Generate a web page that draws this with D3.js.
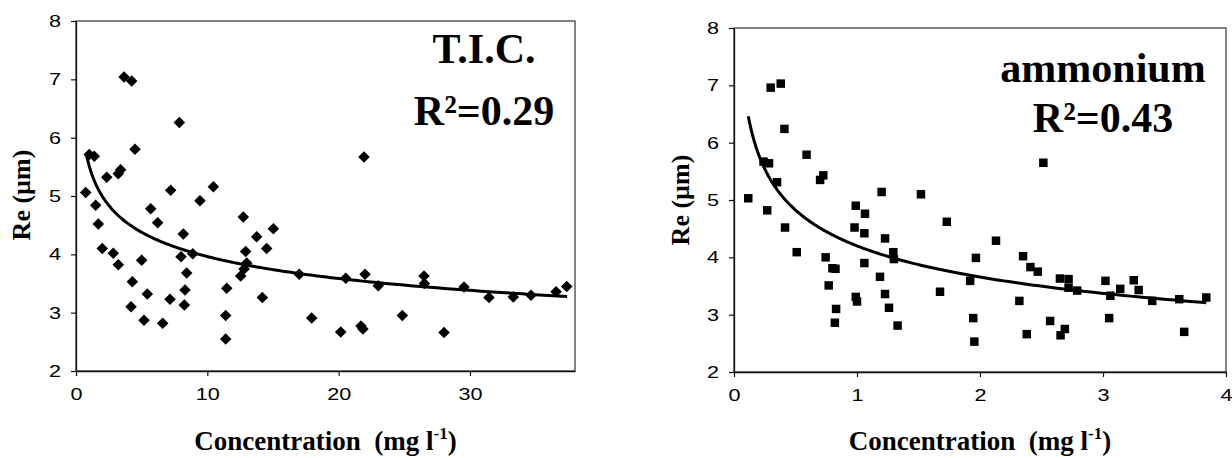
<!DOCTYPE html>
<html>
<head>
<meta charset="utf-8">
<script src="https://cdn.jsdelivr.net/npm/d3@7"></script>
<style>
  html, body { margin: 0; padding: 0; background: #fff; }
  svg { display: block; }
  text { white-space: pre; }
</style>
</head>
<body>
<svg id="chart" width="1232" height="458"></svg>
<script>
// ---- Data ----
const ticX = [3.66, 4.24, 7.87, 4.49, 1.01, 1.39, 2.34, 3.22, 3.40, 0.74, 7.21, 9.44, 10.46, 12.74, 15.03, 1.50, 1.70, 5.69, 6.22,
  2.00, 2.84, 3.22, 5.00, 4.29, 4.19, 5.43, 5.18, 6.60, 7.16, 8.17, 8.00, 8.89, 8.43, 8.30, 8.25, 11.48, 11.40, 11.40,
  13.76, 12.92, 14.52, 13.00, 12.54, 12.80, 14.19, 17.00, 17.95, 20.54, 20.16, 22.01, 21.70, 21.85, 23.02, 24.85,
  26.50, 26.53, 28.03, 29.55, 31.45, 33.30, 34.65, 36.56, 37.37, 21.93];
const ticY = [7.04, 6.97, 6.26, 5.80, 5.71, 5.68, 5.32, 5.38, 5.45, 5.06, 5.10, 4.92, 5.16, 4.64, 4.44, 4.84, 4.52, 4.78, 4.54,
  4.10, 4.02, 3.82, 3.90, 3.53, 3.10, 3.32, 2.87, 2.82, 3.23, 4.35, 3.96, 4.01, 3.68, 3.39, 3.13, 3.42, 2.95, 2.55,
  4.30, 4.05, 4.10, 3.85, 3.63, 3.75, 3.26, 3.66, 2.91, 3.59, 2.67, 3.66, 2.77, 2.72, 3.46, 2.95,
  3.63, 3.50, 2.66, 3.44, 3.26, 3.27, 3.30, 3.36, 3.45, 5.67];

const ammX = [0.116, 0.298, 0.38, 0.41, 0.59, 0.24, 0.285, 0.35, 0.70, 0.726, 0.27, 0.415, 0.99, 1.065, 1.20, 1.52, 1.73, 0.98,
  0.51, 0.745, 0.80, 0.825, 0.77, 0.83, 0.82, 1.06, 1.06, 0.99, 1.00, 1.228, 1.295, 1.30, 1.187, 1.228, 1.26, 1.33,
  1.675, 2.515, 1.967, 1.92, 1.945, 1.954, 2.13, 2.32, 2.35, 2.41, 2.47, 2.38, 2.57, 2.65, 2.72, 2.72, 2.79,
  2.655, 2.69, 3.02, 3.06, 3.05, 3.14, 3.25, 3.29, 3.40, 3.62, 3.66, 3.84];
const ammY = [5.03, 6.96, 7.03, 6.24, 5.79, 5.67, 5.64, 5.31, 5.35, 5.43, 4.82, 4.52, 4.90, 4.76, 5.14, 5.10, 4.62, 4.52,
  4.09, 4.00, 3.81, 3.80, 3.51, 3.10, 2.86, 4.42, 3.90, 3.31, 3.23, 4.33, 4.09, 3.97, 3.66, 3.36, 3.12, 2.81,
  3.40, 5.65, 3.99, 3.59, 2.94, 2.53, 4.29, 3.24, 4.02, 3.83, 3.75, 2.66, 2.89, 3.63, 3.62, 3.47, 3.42,
  2.64, 2.75, 3.59, 3.33, 2.94, 3.45, 3.60, 3.43, 3.24, 3.27, 2.70, 3.30];

// power-law trend lines (y = a * x^-c) as drawn in the reference
const ticTrend = { a: 5.52, c: 0.144, xMin: 0.8, xMax: 37.4 };
const ammTrend = { a: 4.20, c: 0.200, xMin: 0.116, xMax: 3.84 };

const ticXTicks = [0, 10, 20, 30];
const ammXTicks = [0, 1, 2, 3, 4];
const yTicks = [2, 3, 4, 5, 6, 7, 8];

const ticLabel = ["T.I.C.", "R²=0.29"];
const ammLabel = ["ammonium", "R²=0.43"];
const yTitle = "Re (µm)";
const xTitleMain = "Concentration  (mg l";
const xTitleSup = "-1";

// ---- Drawing ----
const svg = d3.select("#chart");
const SX = 1.27;           // horizontal stretch of the reference's tick digits
const serif = "'Liberation Serif', 'Times New Roman', serif";
const sans = "'Liberation Sans', Arial, sans-serif";

function panel(cfg) {
  const { left, right, top, bottom, xDomain, xTicks, xs, ys, trend, marker, label, labelCx, labelY, yTitleX, yTitleY } = cfg;
  const x = d3.scaleLinear().domain(xDomain).range([left, right]);
  const y = d3.scaleLinear().domain([2, 8]).range([bottom, top]);
  const g = svg.append("g");

  // frame
  g.append("rect").attr("x", left).attr("y", top).attr("width", right - left).attr("height", bottom - top)
    .attr("fill", "none").attr("stroke", "#333").attr("stroke-width", 1.2);

  // axes
  const ax = g.append("g").attr("transform", `translate(0,${bottom})`)
    .call(d3.axisBottom(x).tickValues(xTicks).tickSize(5).tickSizeOuter(0).tickPadding(12).tickFormat(d3.format("d")));
  const ay = g.append("g").attr("transform", `translate(${left},0)`)
    .call(d3.axisLeft(y).tickValues(yTicks).tickSize(5).tickSizeOuter(0).tickPadding(10).tickFormat(d3.format("d")));
  [ax, ay].forEach(a => {
    a.select(".domain").attr("stroke", "#111").attr("stroke-width", 1.3);
    a.selectAll(".tick line").attr("stroke", "#111").attr("stroke-width", 1.2);
    a.selectAll(".tick text").attr("fill", "#000").style("font-family", sans).style("font-size", "17px");
  });
  ax.selectAll(".tick text").each(function () {
    const t = d3.select(this);
    const yy = +t.attr("y");
    t.attr("y", 0).attr("transform", `translate(0,${yy}) scale(${SX},1)`);
  });
  ay.selectAll(".tick text").each(function () {
    const t = d3.select(this);
    const xx = +t.attr("x");
    t.attr("x", 0).attr("transform", `translate(${xx},0) scale(${SX},1)`);
  });

  // trend curve
  const curvePts = d3.range(0, 201).map(i => {
    const xv = trend.xMin * Math.pow(trend.xMax / trend.xMin, i / 200);
    return [xv, trend.a * Math.pow(xv, -trend.c)];
  });
  g.append("path").datum(curvePts)
    .attr("d", d3.line().x(d => x(d[0])).y(d => y(d[1])))
    .attr("fill", "none").attr("stroke", "#000").attr("stroke-width", 3);

  // markers
  const pts = xs.map((v, i) => [v, ys[i]]);
  g.append("g").selectAll("path").data(pts).join("path")
    .attr("transform", d => `translate(${x(d[0])},${y(d[1])})`)
    .attr("d", d3.symbol().type(marker.type).size(marker.size))
    .attr("fill", "#000");

  // in-plot label
  label.forEach((s, i) => {
    g.append("text").attr("x", labelCx).attr("y", labelY[i])
      .attr("text-anchor", "middle").style("font-family", serif).style("font-weight", "bold")
      .style("font-size", "42px").attr("fill", "#000").text(s);
  });

  // y title
  g.append("text").attr("transform", `translate(${yTitleX},${yTitleY}) rotate(-90)`)
    .attr("text-anchor", "middle").style("font-family", serif).style("font-weight", "bold")
    .style("font-size", "26px").attr("fill", "#000").text(yTitle);

  // x title
  const xt = g.append("text").attr("x", (left + right) / 2).attr("y", 450)
    .attr("text-anchor", "middle").style("font-family", serif).style("font-weight", "bold")
    .style("font-size", "27px").attr("fill", "#000");
  xt.append("tspan").text(xTitleMain);
  xt.append("tspan").attr("dy", -11).style("font-size", "17px").text(xTitleSup);
  xt.append("tspan").attr("dy", 11).text(")");
}

panel({
  left: 76, right: 575, top: 21, bottom: 371, xDomain: [0, 38], xTicks: ticXTicks,
  xs: ticX, ys: ticY, trend: ticTrend, marker: { type: d3.symbolDiamond2, size: 85 },
  label: ticLabel, labelCx: 484, labelY: [63, 125], yTitleX: 30, yTitleY: 195
});
panel({
  left: 734, right: 1226, top: 28, bottom: 372, xDomain: [0, 4], xTicks: ammXTicks,
  xs: ammX, ys: ammY, trend: ammTrend, marker: { type: d3.symbolSquare, size: 72 },
  label: ammLabel, labelCx: 1103, labelY: [82, 132], yTitleX: 689, yTitleY: 200
});
</script>
</body>
</html>
